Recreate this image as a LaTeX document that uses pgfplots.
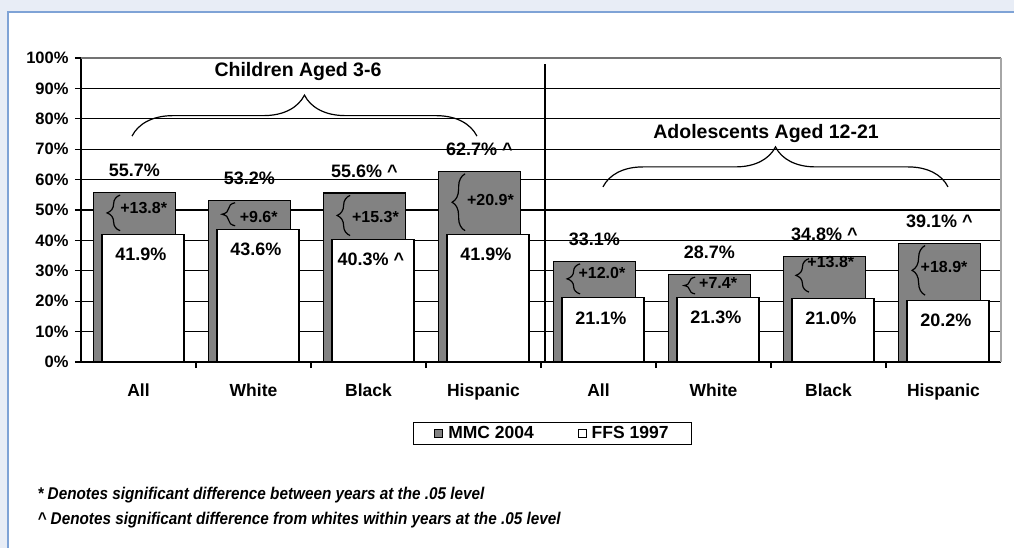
\documentclass[border=0pt]{standalone}
\usepackage{fontspec}
\setmainfont{Liberation Sans}
\newfontfamily\narrowfont[FakeStretch=0.9]{Liberation Sans}
\usepackage{pgfplots}
\pgfplotsset{compat=1.18}
\usetikzlibrary{decorations.pathreplacing}
\definecolor{bgblue}{HTML}{E8EDF6}
\definecolor{borderblue}{HTML}{7FA3D6}
\definecolor{bargray}{HTML}{828282}
\newcommand\fsz[1]{\fontsize{#1}{#1}\selectfont\bfseries}
\tikzset{vf/.style={font=\fsz{18}}, df/.style={font=\fsz{16}}, tf/.style={font=\fsz{19.5}}}
\pgfplotsset{sqlegend/.style={legend image code/.code={\draw[##1,/tikz/.cd,line width=0.8pt] (0pt,-4pt) rectangle (8pt,4pt);}}}
\begin{document}
\begin{tikzpicture}
\useasboundingbox (0pt,0pt) rectangle (1014pt,-548pt);
\fill[bgblue] (0pt,0pt) rectangle (1014pt,-548pt);
\fill[white] (8pt,-12pt) rectangle (1014pt,-548pt);
\draw[borderblue,line width=1.5pt] (8pt,-548pt) -- (8pt,-12pt) -- (1014pt,-12pt);
\begin{axis}[
  at={(81pt,-362pt)}, anchor=south west,
  scale only axis, width=920pt, height=304pt,
  xmin=-0.5, xmax=7.5, ymin=0, ymax=100,
  axis lines*=left,
  axis line style={line width=1.3pt, black},
  clip=false,
  ytick={0,10,...,100},
  yticklabels={0\%,10\%,20\%,30\%,40\%,50\%,60\%,70\%,80\%,90\%,100\%},
  ymajorgrids, grid style={black, line width=1.1pt},
  xtick={0.5,1.5,...,6.5}, xticklabels={},
  extra x ticks={0,1,2,3,4,5,6,7},
  extra x tick labels={All,White,Black,Hispanic,All,White,Black,Hispanic},
  extra x tick style={major tick length=0pt, xticklabel style={font=\fsz{17.5}, yshift=-18pt}},
  tick align=outside, major tick length=6pt,
  tick style={black, line width=1.1pt},
  yticklabel style={font=\fsz{16.5}, xshift=-3pt},
  legend style={at={(0.5125,-0.235)}, anchor=center, legend columns=2, draw=black, line width=1pt,
    font=\fsz{17.5}, inner xsep=21pt, inner ysep=2pt,
    /tikz/every even column/.append style={column sep=42pt},
    /tikz/every odd column/.append style={column sep=3pt}},
]
\addplot[ybar, bar width=82pt, bar shift=-4pt, fill=bargray, draw=black, line width=1.2pt, sqlegend]
  coordinates {(0,55.7) (1,53.2) (2,55.6) (3,62.7) (4,33.1) (5,28.7) (6,34.8) (7,39.1)};
\addlegendentry{MMC 2004}
\addplot[ybar, bar width=82pt, bar shift=4.5pt, fill=white, draw=black, line width=1.2pt, sqlegend]
  coordinates {(0,41.9) (1,43.6) (2,40.3) (3,41.9) (4,21.1) (5,21.3) (6,21.0) (7,20.2)};
\addlegendentry{FFS 1997}
% borders
\draw[black!55, line width=1.5pt] (axis cs:-0.5,100) -- (axis cs:7.5,100);
\draw[black!35, line width=2pt] (axis cs:7.5,100) -- (axis cs:7.5,0);
\draw[black, line width=1.3pt] (axis cs:3.535,0) -- (axis cs:3.535,98);
% gray labels
\node[vf, yshift=22pt] at (axis cs:-0.035,55.7) {55.7\%};
\node[vf, yshift=22pt] at (axis cs:0.965,53.2) {53.2\%};
\node[vf, yshift=22pt] at (axis cs:1.965,55.6) {55.6\% \textasciicircum};
\node[vf, yshift=22pt] at (axis cs:2.965,62.7) {62.7\% \textasciicircum};
\node[vf, yshift=22pt] at (axis cs:3.965,33.1) {33.1\%};
\node[vf, yshift=22pt] at (axis cs:4.965,28.7) {28.7\%};
\node[vf, yshift=22pt] at (axis cs:5.965,34.8) {34.8\% \textasciicircum};
\node[vf, yshift=22pt] at (axis cs:6.965,39.1) {39.1\% \textasciicircum};
% white labels
\node[vf, yshift=-20pt] at (axis cs:0.02,41.9) {41.9\%};
\node[vf, yshift=-20pt] at (axis cs:1.02,43.6) {43.6\%};
\node[vf, yshift=-20pt] at (axis cs:2.02,40.3) {40.3\% \textasciicircum};
\node[vf, yshift=-20pt] at (axis cs:3.02,41.9) {41.9\%};
\node[vf, yshift=-20pt] at (axis cs:4.02,21.1) {21.1\%};
\node[vf, yshift=-20pt] at (axis cs:5.02,21.3) {21.3\%};
\node[vf, yshift=-20pt] at (axis cs:6.02,21.0) {21.0\%};
\node[vf, yshift=-20pt] at (axis cs:7.02,20.2) {20.2\%};
% difference labels
\node[df] at (axis cs:0.045,50.7) {+13.8*};
\node[df] at (axis cs:1.045,47.7) {+9.6*};
\node[df] at (axis cs:2.06,47.7) {+15.3*};
\node[df] at (axis cs:3.06,53.3) {+20.9*};
\node[df] at (axis cs:4.03,29.3) {+12.0*};
\node[df] at (axis cs:5.04,26.0) {+7.4*};
\node[df] at (axis cs:6.02,33.0) {+13.8*};
\node[df] at (axis cs:7.005,31.35) {+18.9*};
% small braces
\begin{scope}[line width=1.2pt]
\draw[decorate, decoration={brace, amplitude=13pt}] (axis cs:-0.16,43.2) -- (axis cs:-0.16,54.9);
\draw[decorate, decoration={brace, amplitude=13pt}] (axis cs:0.84,44.8) -- (axis cs:0.84,52.4);
\draw[decorate, decoration={brace, amplitude=13pt}] (axis cs:1.84,41.6) -- (axis cs:1.84,54.8);
\draw[decorate, decoration={brace, amplitude=13pt}] (axis cs:2.84,43.2) -- (axis cs:2.84,61.9);
\draw[decorate, decoration={brace, amplitude=13pt}] (axis cs:3.84,22.4) -- (axis cs:3.84,32.3);
\draw[decorate, decoration={brace, amplitude=11pt}] (axis cs:4.84,22.4) -- (axis cs:4.84,27.9);
\draw[decorate, decoration={brace, amplitude=13pt}] (axis cs:5.83,23.0) -- (axis cs:5.83,34.0);
\draw[decorate, decoration={brace, amplitude=13pt}] (axis cs:6.84,22.0) -- (axis cs:6.84,38.3);
% group braces
\draw[decorate, decoration={brace, amplitude=41pt}] (axis cs:-0.0565,74.3) -- (axis cs:2.943,74.3);
\draw[decorate, decoration={brace, amplitude=40pt}] (axis cs:4.039,57.6) -- (axis cs:7.039,57.6);
\end{scope}
\node[tf] at (axis cs:1.387,95.7) {Children Aged 3-6};
\node[tf] at (axis cs:5.457,75.3) {Adolescents Aged 12-21};
\end{axis}
\node[anchor=west, font=\narrowfont\fontsize{17}{17}\selectfont\bfseries\itshape] at (34pt,-495pt)
  {* Denotes significant difference between years at the .05 level};
\node[anchor=west, font=\narrowfont\fontsize{17}{17}\selectfont\bfseries\itshape] at (34pt,-520pt)
  {\textasciicircum{} Denotes significant difference from whites within years at the .05 level};
\end{tikzpicture}
\end{document}
